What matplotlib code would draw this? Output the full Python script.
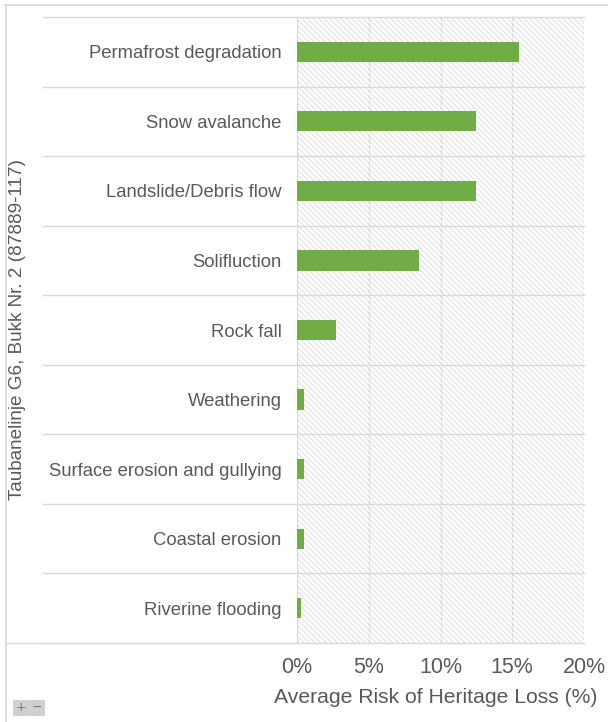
import matplotlib
matplotlib.use("Agg")
import matplotlib.pyplot as plt
from matplotlib.patches import Rectangle
from matplotlib.lines import Line2D
from matplotlib.ticker import FuncFormatter

plt.rcParams['font.family'] = ['Liberation Sans', 'DejaVu Sans']
plt.rcParams['hatch.color'] = '#dedede'
plt.rcParams['hatch.linewidth'] = 0.6

# Hazard categories (top to bottom) and average risk values (%)
hazards = [
    "Permafrost degradation",
    "Snow avalanche",
    "Landslide/Debris flow",
    "Solifluction",
    "Rock fall",
    "Weathering",
    "Surface erosion and gullying",
    "Coastal erosion",
    "Riverine flooding",
]
risk = [15.5, 12.5, 12.5, 8.5, 2.7, 0.5, 0.5, 0.5, 0.25]
x_ticks = [0, 5, 10, 15, 20]

W, H = 608, 722
fig = plt.figure(figsize=(W / 100, H / 100), dpi=100)
left, right, top, bottom = 297, 584, 17, 643
ax = fig.add_axes([left / W, 1 - bottom / H, (right - left) / W, (bottom - top) / H])

text_color = '#595959'
n = len(hazards)
ypos = list(range(n))

# hatched plot background
ax.add_patch(Rectangle((0, 0), 1, 1, transform=ax.transAxes, facecolor='white',
                       edgecolor='#d9d9d9', hatch='\\\\\\\\\\\\', lw=0.8, zorder=0))

ax.barh(ypos, risk, height=0.29, color='#70ad47', zorder=3)

ax.set_xlim(0, 20)
ax.set_ylim(n - 0.5, -0.5)
ax.set_xticks(x_ticks)
ax.xaxis.set_major_formatter(FuncFormatter(lambda v, p: f"{v:.0f}%"))
ax.set_yticks(ypos)
ax.set_yticklabels(hazards)
ax.tick_params(axis='y', length=0, pad=11, labelsize=13.3, labelcolor=text_color)
ax.tick_params(axis='x', length=0, pad=10, labelsize=15.5, labelcolor=text_color)
for s in ax.spines.values():
    s.set_visible(False)

# vertical gridlines
for t in x_ticks:
    ax.axvline(t, color='#d9d9d9', lw=1.0, ls=(0, (3, 1)), zorder=1)

# row separators extending into the label area
for b in [i - 0.5 for i in range(n + 1)]:
    ax.plot([-17.7, 20], [b, b], color='#d9d9d9', lw=1.0, clip_on=False, zorder=2)

ax.set_xlabel("Average Risk of Heritage Loss (%)", fontsize=15.2, color=text_color, labelpad=7)
ax.xaxis.label.set_x(0.484)
fig.text(18 / W, 1 - 330 / H, "Taubanelinje G6, Bukk Nr. 2 (87889-117)", rotation=90,
         ha='center', va='center', fontsize=13.6, color=text_color)

# outer frame lines
fig.add_artist(Line2D([5 / W, 1], [1 - 4.5 / H, 1 - 4.5 / H], color='#d9d9d9', lw=1.2))
fig.add_artist(Line2D([6 / W, 6 / W], [0, 1 - 4.5 / H], color='#d9d9d9', lw=1.2))
fig.add_artist(Line2D([6 / W, left / W], [1 - bottom / H, 1 - bottom / H], color='#d9d9d9', lw=1.0))

# zoom buttons
for i, sym in enumerate(['+', '\u2212']):
    x0 = (13 + i * 16) / W
    fig.add_artist(Rectangle((x0, 1 - 715 / H), 15 / W, 15 / H, transform=fig.transFigure,
                             facecolor='#d0d0d0', edgecolor='#c8c8c8', lw=0.5))
    fig.text(x0 + 7.5 / W, 1 - 707.5 / H, sym, ha='center', va='center', fontsize=9,
             color='#7a7a7a', family='DejaVu Sans')

fig.savefig("out.png", dpi=100)
